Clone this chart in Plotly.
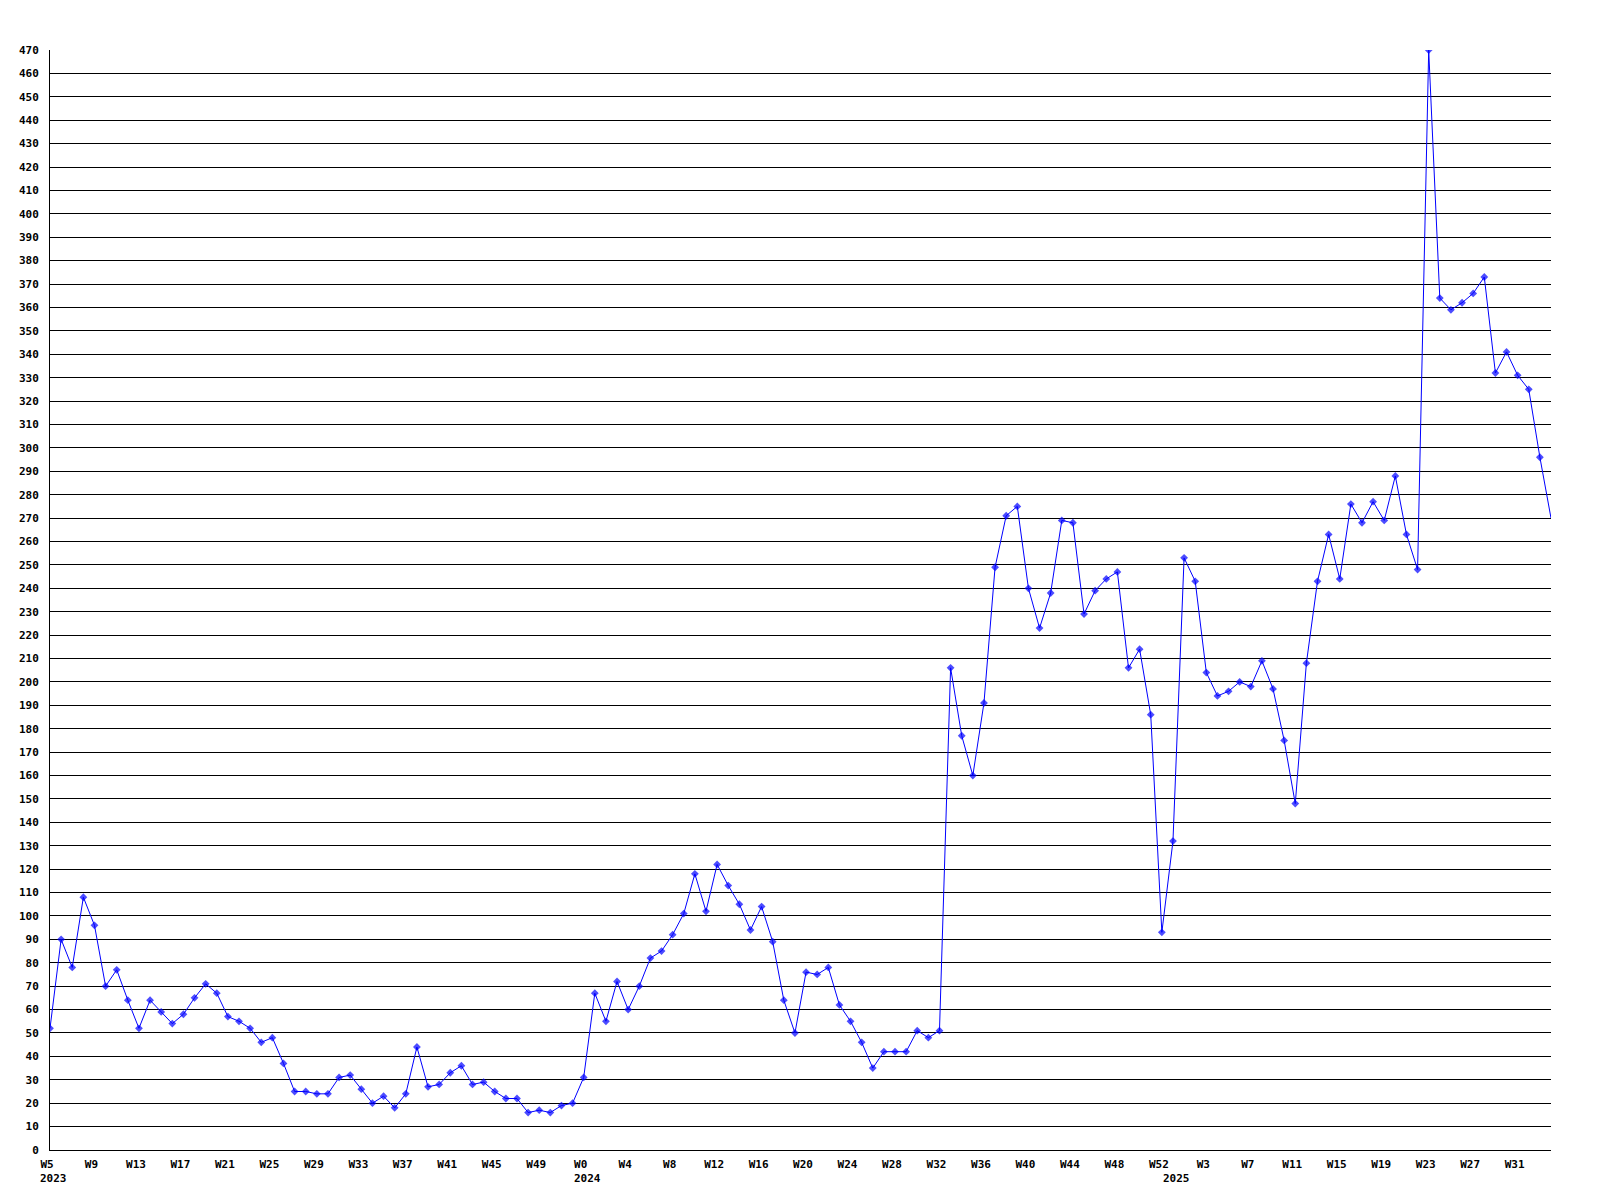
import plotly.graph_objects as go

# Weekly values, W5 2023 .. W34 2025 (one value per week)
values = [
    52, 90, 78, 108, 96, 70, 77, 64, 52, 64, 59, 54, 58, 65, 71, 67, 57, 55, 52, 46,
    48, 37, 25, 25, 24, 24, 31, 32, 26, 20, 23, 18, 24, 44, 27, 28, 33, 36, 28, 29,
    25, 22, 22, 16, 17, 16, 19, 20, 31, 67, 55, 72, 60, 70, 82, 85, 92, 101, 118, 102,
    122, 113, 105, 94, 104, 89, 64, 50, 76, 75, 78, 62, 55, 46, 35, 42, 42, 42, 51, 48,
    51, 206, 177, 160, 191, 249, 271, 275, 240, 223, 238, 269, 268, 229, 239, 244, 247, 206, 214, 186,
    93, 132, 253, 243, 204, 194, 196, 200, 198, 209, 197, 175, 148, 208, 243, 263, 244, 276, 268, 277,
    269, 288, 263, 248, 470, 364, 359, 362, 366, 373, 332, 341, 331, 325, 296, 270,
]

# x-axis tick labels (every 4th week)
tick_labels = [
    "W5", "W9", "W13", "W17", "W21", "W25", "W29", "W33", "W37", "W41", "W45", "W49",
    "W0", "W4", "W8", "W12", "W16", "W20", "W24", "W28", "W32", "W36", "W40", "W44", "W48", "W52",
    "W3", "W7", "W11", "W15", "W19", "W23", "W27", "W31",
]
# year labels and the week index where each year starts
year_labels = ["2023", "2024", "2025"]
year_start_index = [0, 48, 101]

x = list(range(len(values)))
tick_positions = list(range(0, len(values), 4))[:len(tick_labels)]

FONT = dict(family="DejaVu Sans Mono", size=11, color="black", weight="bold")
BLUE = "#0000ff"

marker_sizes = [6] * (len(values) - 1) + [0]

fig = go.Figure()
fig.add_trace(go.Scatter(
    x=x, y=values, mode="lines+markers",
    line=dict(color=BLUE, width=1),
    marker=dict(symbol="diamond", size=marker_sizes, color=BLUE, line=dict(width=0)),
    hoverinfo="y", showlegend=False,
))

for lbl, idx in zip(year_labels, year_start_index):
    fig.add_annotation(
        x=idx, y=0, xref="x", yref="paper", text=lbl, showarrow=False,
        xanchor="left", yanchor="top", xshift=-12, yshift=-20, font=FONT,
    )

fig.update_layout(
    width=1584, height=1184,
    margin=dict(l=42, r=41, t=42, b=42),
    paper_bgcolor="white", plot_bgcolor="white",
    font=FONT,
    xaxis=dict(
        range=[0, len(values) - 1], tickmode="array",
        tickvals=tick_positions, ticktext=tick_labels,
        showgrid=False, zeroline=False, showline=True, linecolor="black", linewidth=1,
        ticks="", ticklabelstandoff=4, ticklabelshift=-3, tickfont=FONT,
    ),
    yaxis=dict(
        range=[0, 470], tickmode="linear", tick0=0, dtick=10,
        showgrid=True, gridcolor="black", gridwidth=1,
        zeroline=False, showline=True, linecolor="black", linewidth=1,
        ticks="", ticklabelstandoff=8, tickfont=FONT,
    ),
)

fig.write_html("out.html")
